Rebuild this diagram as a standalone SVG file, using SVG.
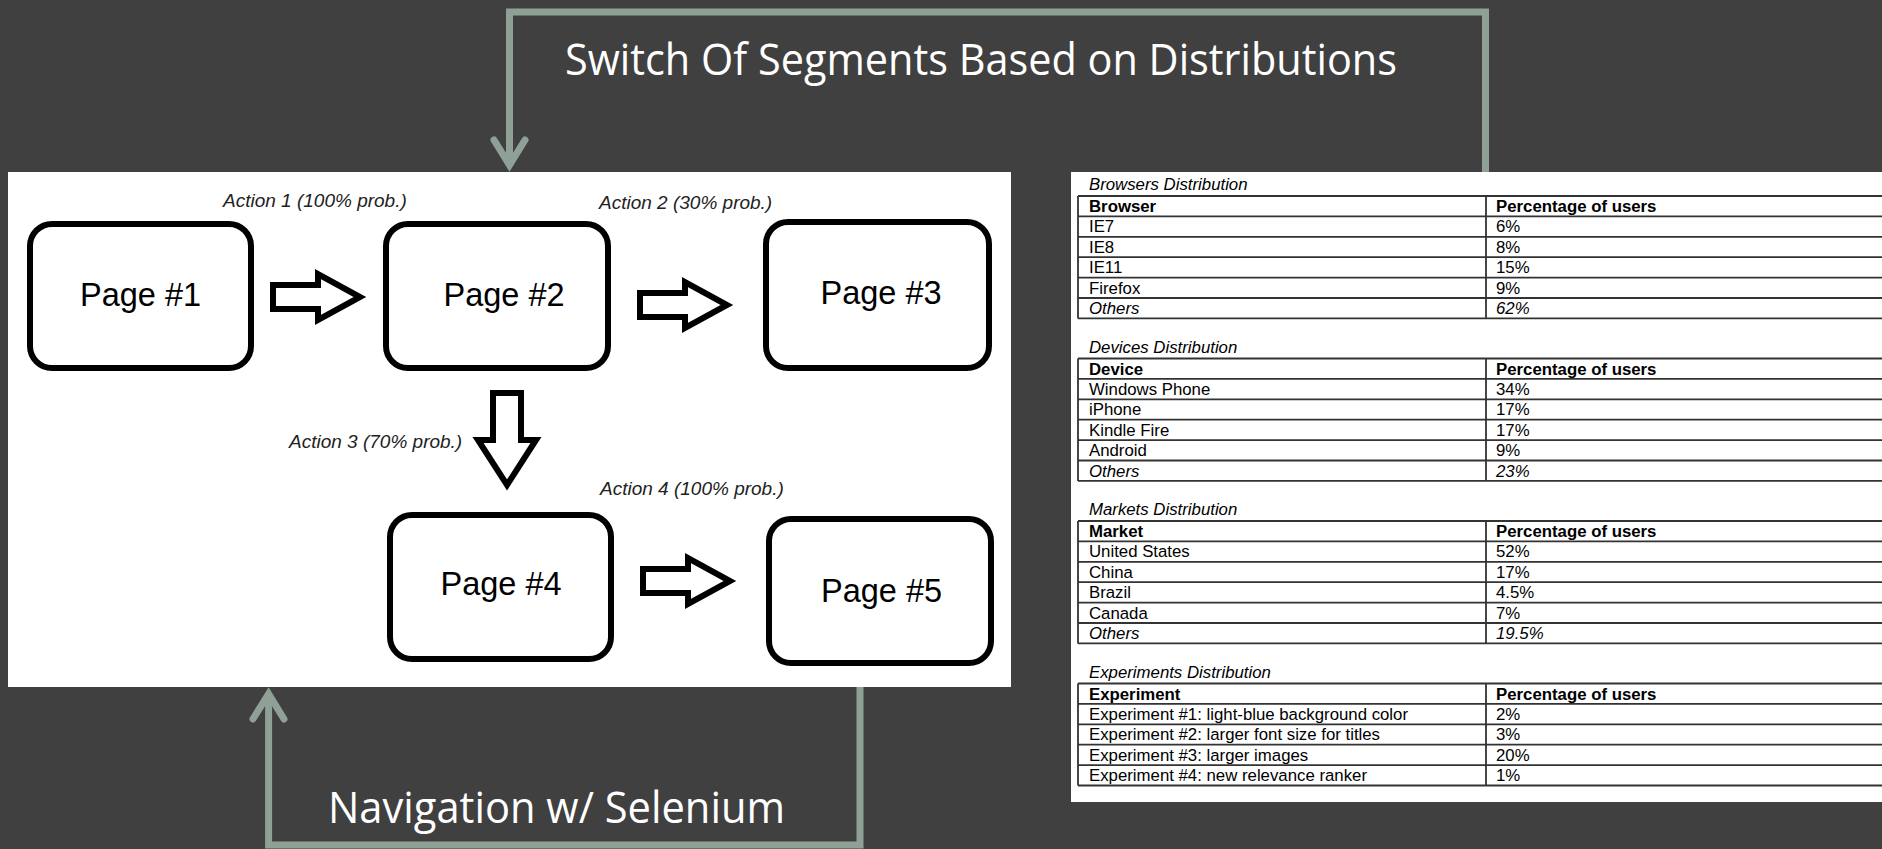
<svg xmlns="http://www.w3.org/2000/svg" width="1882" height="849" viewBox="0 0 1882 849">
<style>
.bg{fill:#404040}
.panel{fill:#ffffff}
.box{fill:#ffffff;stroke:#000000;stroke-width:6}
.blk{fill:#ffffff;stroke:#000000;stroke-width:6;stroke-linejoin:miter}
.pg{font-family:"Liberation Sans",Arial,sans-serif;font-size:32.5px;fill:#000;text-anchor:middle}
.act{font-family:"Liberation Sans",Arial,sans-serif;font-size:19px;font-style:italic;fill:#222}
.loop{fill:none;stroke:#8FA197;stroke-width:7}
.head{fill:none;stroke:#8FA197;stroke-width:7;stroke-linecap:round;stroke-linejoin:miter}
.big{font-family:"Open Sans","Noto Sans",sans-serif;font-size:44px;fill:#ffffff}
.tl{fill:none;stroke:#333333;stroke-width:1.8}
.tt{font-family:"Liberation Sans",Arial,sans-serif;font-size:16.8px;fill:#000}
.ti{font-family:"Liberation Sans",Arial,sans-serif;font-size:16.8px;font-style:italic;fill:#000}
.th{font-family:"Liberation Sans",Arial,sans-serif;font-size:16.8px;font-weight:bold;fill:#000}
</style>
<defs>
<path id="rarrow" d="M3,-12 H48 V-23 L90,0 L48,23 V12 H3 Z"/>
<path id="darrow" d="M-14,3 H14 V50 H29 L0,95 L-29,50 H-14 Z"/>
</defs>
<rect class="bg" x="0" y="0" width="1882" height="849"/>

<g id="flow-panel">
<rect class="panel" x="8" y="172" width="1003" height="515"/>
</g>

<g id="page1"><rect class="box" x="30" y="224" width="221" height="144" rx="22"/><text class="pg" x="140.5" y="306">Page #1</text></g>
<g id="page2"><rect class="box" x="386" y="224" width="222" height="144" rx="22"/><text class="pg" x="504" y="306">Page #2</text></g>
<g id="page3"><rect class="box" x="766" y="222" width="223" height="146" rx="22"/><text class="pg" x="881" y="304">Page #3</text></g>
<g id="page4"><rect class="box" x="390" y="515" width="221" height="144" rx="22"/><text class="pg" x="501" y="595">Page #4</text></g>
<g id="page5"><rect class="box" x="769" y="519" width="222" height="144" rx="22"/><text class="pg" x="881.5" y="602">Page #5</text></g>

<g id="connectors">
<use href="#rarrow" class="blk" transform="translate(270,297)"/>
<use href="#rarrow" class="blk" transform="translate(637,305)"/>
<use href="#rarrow" class="blk" transform="translate(640,581)"/>
<use href="#darrow" class="blk" transform="translate(507,390)"/>
<text class="act" x="223" y="207">Action 1 (100% prob.)</text>
<text class="act" x="599" y="209">Action 2 (30% prob.)</text>
<text class="act" x="289" y="448">Action 3 (70% prob.)</text>
<text class="act" x="600" y="495">Action 4 (100% prob.)</text>
<path class="loop" d="M1485.5,172 V12 H509.5 V160"/>
<path class="head" d="M494,140 L509.5,165 L525,140"/>
<path class="loop" d="M860,687 V845 H268.6 V700"/>
<path class="head" d="M253,719 L268.6,694 L284,719"/>
<text class="big" x="565" y="75" textLength="832" lengthAdjust="spacingAndGlyphs">Switch Of Segments Based on Distributions</text>
<text class="big" x="328" y="823" textLength="457" lengthAdjust="spacingAndGlyphs">Navigation w/ Selenium</text>
</g>

<g id="distributions">
<rect class="panel" x="1071" y="172" width="811" height="630"/>

<g id="browsers">
<text class="ti" x="1089" y="190">Browsers Distribution</text>
<path class="tl" d="M1078,196 H1882 M1078,216.4 H1882 M1078,236.8 H1882 M1078,257.2 H1882 M1078,277.6 H1882 M1078,298 H1882 M1078,318.4 H1882 M1078,196 V318.4 M1486,196 V318.4"/>
<text class="th" x="1089" y="212">Browser</text><text class="th" x="1496" y="212">Percentage of users</text>
<text class="tt" x="1089" y="232.4">IE7</text><text class="tt" x="1496" y="232.4">6%</text>
<text class="tt" x="1089" y="252.8">IE8</text><text class="tt" x="1496" y="252.8">8%</text>
<text class="tt" x="1089" y="273.2">IE11</text><text class="tt" x="1496" y="273.2">15%</text>
<text class="tt" x="1089" y="293.6">Firefox</text><text class="tt" x="1496" y="293.6">9%</text>
<text class="ti" x="1089" y="314">Others</text><text class="ti" x="1496" y="314">62%</text>
</g>

<g id="devices">
<text class="ti" x="1089" y="352.5">Devices Distribution</text>
<path class="tl" d="M1078,358.5 H1882 M1078,378.9 H1882 M1078,399.3 H1882 M1078,419.7 H1882 M1078,440.1 H1882 M1078,460.5 H1882 M1078,480.9 H1882 M1078,358.5 V480.9 M1486,358.5 V480.9"/>
<text class="th" x="1089" y="374.5">Device</text><text class="th" x="1496" y="374.5">Percentage of users</text>
<text class="tt" x="1089" y="394.9">Windows Phone</text><text class="tt" x="1496" y="394.9">34%</text>
<text class="tt" x="1089" y="415.3">iPhone</text><text class="tt" x="1496" y="415.3">17%</text>
<text class="tt" x="1089" y="435.7">Kindle Fire</text><text class="tt" x="1496" y="435.7">17%</text>
<text class="tt" x="1089" y="456.1">Android</text><text class="tt" x="1496" y="456.1">9%</text>
<text class="ti" x="1089" y="476.5">Others</text><text class="ti" x="1496" y="476.5">23%</text>
</g>

<g id="markets">
<text class="ti" x="1089" y="515">Markets Distribution</text>
<path class="tl" d="M1078,521 H1882 M1078,541.4 H1882 M1078,561.8 H1882 M1078,582.2 H1882 M1078,602.6 H1882 M1078,623 H1882 M1078,643.4 H1882 M1078,521 V643.4 M1486,521 V643.4"/>
<text class="th" x="1089" y="537">Market</text><text class="th" x="1496" y="537">Percentage of users</text>
<text class="tt" x="1089" y="557.4">United States</text><text class="tt" x="1496" y="557.4">52%</text>
<text class="tt" x="1089" y="577.8">China</text><text class="tt" x="1496" y="577.8">17%</text>
<text class="tt" x="1089" y="598.2">Brazil</text><text class="tt" x="1496" y="598.2">4.5%</text>
<text class="tt" x="1089" y="618.6">Canada</text><text class="tt" x="1496" y="618.6">7%</text>
<text class="ti" x="1089" y="639">Others</text><text class="ti" x="1496" y="639">19.5%</text>
</g>

<g id="experiments">
<text class="ti" x="1089" y="677.5">Experiments Distribution</text>
<path class="tl" d="M1078,683.5 H1882 M1078,703.9 H1882 M1078,724.3 H1882 M1078,744.7 H1882 M1078,765.1 H1882 M1078,785.5 H1882 M1078,683.5 V785.5 M1486,683.5 V785.5"/>
<text class="th" x="1089" y="699.5">Experiment</text><text class="th" x="1496" y="699.5">Percentage of users</text>
<text class="tt" x="1089" y="719.9">Experiment #1: light-blue background color</text><text class="tt" x="1496" y="719.9">2%</text>
<text class="tt" x="1089" y="740.3">Experiment #2: larger font size for titles</text><text class="tt" x="1496" y="740.3">3%</text>
<text class="tt" x="1089" y="760.7">Experiment #3: larger images</text><text class="tt" x="1496" y="760.7">20%</text>
<text class="tt" x="1089" y="781.1">Experiment #4: new relevance ranker</text><text class="tt" x="1496" y="781.1">1%</text>
</g>
</g>
</svg>
